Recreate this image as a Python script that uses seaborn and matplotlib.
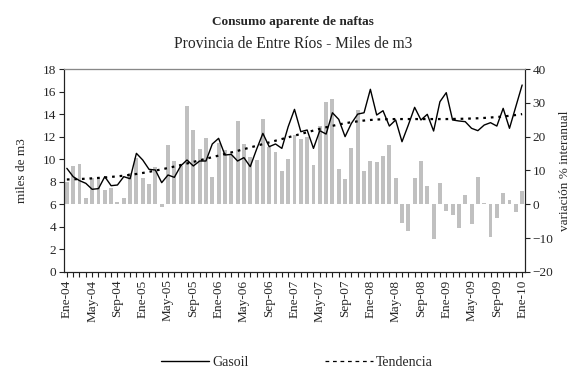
import numpy as np
import pandas as pd
import matplotlib
matplotlib.use("Agg")
import matplotlib.pyplot as plt
from matplotlib.lines import Line2D
import seaborn as sns

# Monthly series, Jan 2004 - Jan 2010
meses = ["Ene", "Feb", "Mar", "Abr", "May", "Jun", "Jul", "Ago", "Sep", "Oct", "Nov", "Dic"]
etiquetas = [f"{m}-{a:02d}" for a in range(4, 11) for m in meses][:73]

# Gasoil consumption (miles de m3)
gasoil = [9.19, 8.45, 8.10, 7.86, 7.33, 7.39, 8.45, 7.65, 7.71, 8.45, 8.27, 10.52,
          9.93, 9.10, 9.04, 7.92, 8.60, 8.39, 9.40, 9.93, 9.40, 9.84, 9.84, 11.35,
          11.85, 10.37, 10.43, 9.84, 10.14, 9.34, 10.87, 12.29, 11.11, 11.35, 10.96, 12.88,
          14.42, 12.44, 12.59, 10.96, 12.53, 12.23, 14.12, 13.53, 12.00, 13.18, 14.00, 14.12,
          16.20, 13.92, 14.30, 12.94, 13.48, 11.55, 13.03, 14.60, 13.48, 13.98, 12.50, 15.10,
          15.90, 13.48, 13.39, 13.33, 12.74, 12.53, 13.03, 13.24, 12.94, 14.51, 12.74, 14.66,
          16.58]

# Trend line (miles de m3)
tendencia = [8.20, 8.22, 8.24, 8.27, 8.30, 8.34, 8.38, 8.43, 8.48, 8.54, 8.61, 8.69,
             8.78, 8.88, 8.99, 9.10, 9.22, 9.35, 9.48, 9.62, 9.76, 9.90, 10.04, 10.18,
             10.32, 10.46, 10.60, 10.74, 10.89, 11.04, 11.19, 11.34, 11.49, 11.64, 11.79, 11.94,
             12.09, 12.24, 12.39, 12.54, 12.69, 12.83, 12.96, 13.08, 13.19, 13.28, 13.36, 13.43,
             13.48, 13.52, 13.54, 13.55, 13.56, 13.56, 13.56, 13.56, 13.56, 13.56, 13.56, 13.56,
             13.56, 13.57, 13.58, 13.59, 13.61, 13.63, 13.66, 13.70, 13.74, 13.79, 13.85, 13.92,
             14.00]

# Year-over-year change (%)
variacion = [6.7, 11.3, 11.9, 2.0, 7.9, 8.1, 4.3, 4.9, 0.8, 2.0, 9.3, 13.6,
             7.8, 6.0, 10.9, -0.9, 17.5, 12.9, 11.3, 29.1, 22.0, 16.4, 19.6, 8.1,
             18.0, 16.1, 14.6, 24.7, 17.8, 14.0, 13.1, 25.1, 17.0, 15.5, 9.9, 13.4,
             20.5, 19.3, 19.8, 11.6, 23.2, 30.2, 31.2, 10.5, 7.6, 16.7, 27.9, 9.9,
             12.9, 12.5, 14.3, 17.5, 7.9, -5.4, -7.8, 7.9, 12.9, 5.4, -10.3, 6.3,
             -2.0, -3.2, -6.9, 2.7, -5.8, 8.1, 0.3, -9.6, -4.0, 3.3, 1.3, -2.3,
             3.9]

pos = np.arange(len(etiquetas))
df = pd.DataFrame({"pos": pos, "mes": etiquetas, "gasoil": gasoil,
                   "tendencia": tendencia, "variacion": variacion})

sns.set_theme(style="white")
plt.rcParams["font.family"] = ["Liberation Serif", "DejaVu Serif"]
plt.rcParams["font.size"] = 9.5

fig = plt.figure(figsize=(5.74, 3.71), dpi=100)
ax = fig.add_axes([0.1115, 0.267, 0.8031, 0.547])
ax2 = ax.twinx()

# bars on the right axis, drawn behind the lines
sns.barplot(data=df, x="pos", y="variacion", ax=ax2, color="#c0c0c0",
            saturation=1, width=0.62, native_scale=True, edgecolor="none")
sns.lineplot(data=df, x="pos", y="gasoil", ax=ax, color="black", lw=1.0)
sns.lineplot(data=df, x="pos", y="tendencia", ax=ax, color="black", lw=1.6,
             linestyle=(0, (1.2, 2.2)))
ax.set_zorder(ax2.get_zorder() + 1)
ax.patch.set_visible(False)

ax.set_ylim(0, 18)
ax.set_yticks(range(0, 19, 2))
ax2.set_ylim(-20, 40)
ax2.set_yticks(range(-20, 41, 10))
ax.set_xlim(-0.45, 72.45)
ax.set_xticks(pos[::4])
ax.set_xticklabels(etiquetas[::4], rotation=90)
ax.set_xticks(pos, minor=True)

ax.set_xlabel("")
ax.set_ylabel("miles de m3", fontsize=9.5, labelpad=11)
ax2.set_ylabel("variación % interanual", fontsize=9.5, labelpad=4)

for a in (ax, ax2):
    for s in a.spines.values():
        s.set_color("#222222")
        s.set_linewidth(0.8)
ax.spines["top"].set_color("#888888")
ax.tick_params(axis="x", which="both", bottom=True, direction="out", length=3.5,
               width=0.8, labelsize=9.5, pad=2, color="#222222")
ax.tick_params(axis="y", left=True, direction="out", length=3.5, width=0.8,
               labelsize=9.5, pad=2, color="#222222")
ax2.tick_params(axis="y", right=True, direction="out", length=3.5, width=0.8,
                labelsize=9.5, pad=2, color="#222222")

fig.text(0.511, 0.94, "Consumo aparente de naftas", ha="center", va="center",
         fontsize=9.5, fontweight="bold")
fig.text(0.511, 0.881, "Provincia de Entre Ríos - Miles de m3", ha="center",
         va="center", fontsize=11.2)

handles = [Line2D([], [], color="black", lw=1.0),
           Line2D([], [], color="black", lw=0.9, linestyle=(0, (3, 3)))]
fig.legend(handles, ["Gasoil", "Tendencia"], loc="center", bbox_to_anchor=(0.517, 0.022),
           ncol=2, frameon=False, handlelength=3.5, handletextpad=0.2,
           columnspacing=5.5, fontsize=10)

fig.savefig("out.png", dpi=100)
